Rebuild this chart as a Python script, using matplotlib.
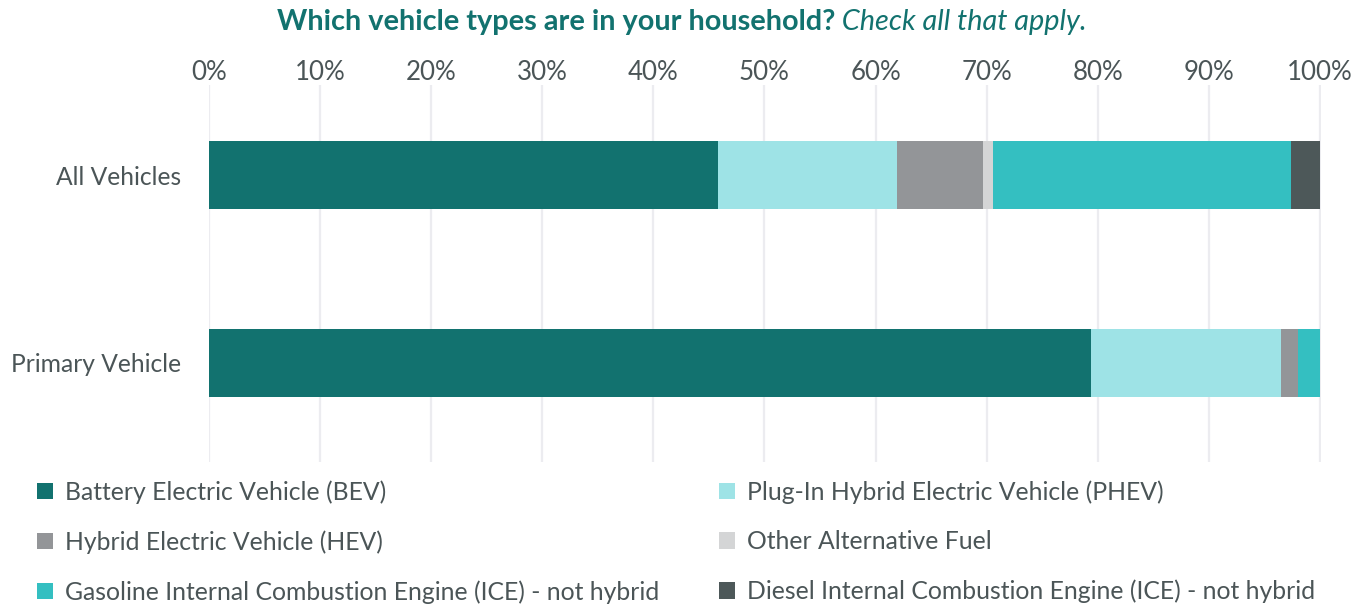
import matplotlib
matplotlib.use("Agg")
import matplotlib.pyplot as plt
import numpy as np

categories = ["All Vehicles", "Primary Vehicle"]
series_names = [
    "Battery Electric Vehicle (BEV)",
    "Plug-In Hybrid Electric Vehicle (PHEV)",
    "Hybrid Electric Vehicle (HEV)",
    "Other Alternative Fuel",
    "Gasoline Internal Combustion Engine (ICE) - not hybrid",
    "Diesel Internal Combustion Engine (ICE) - not hybrid",
]
bev = [45.8, 79.4]
phev = [16.1, 17.1]
hev = [7.8, 1.5]
other = [0.9, 0.0]
gas = [26.8, 2.0]
diesel = [2.6, 0.0]
series_values = [bev, phev, hev, other, gas, diesel]
colors = ["#12726f", "#9ee3e6", "#939598", "#d4d5d6", "#34bfc1", "#4d5859"]
tick_values = [0, 10, 20, 30, 40, 50, 60, 70, 80, 90, 100]
tick_labels = [f"{v}%" for v in tick_values]

plt.rcParams['font.family'] = ['Lato', 'DejaVu Sans']
text_color = "#4b5557"
title_color = "#12726f"

fig = plt.figure(figsize=(13.71, 6.06), dpi=100)
W, H = 1371, 606
ax_left, ax_right = 209 / W, 1321 / W
ax_top, ax_bottom = 1 - 85 / H, 1 - 462 / H
ax = fig.add_axes([ax_left, ax_bottom, ax_right - ax_left, ax_top - ax_bottom])

y = np.arange(len(categories))
left = np.zeros(len(categories))
handles = []
for name, vals, c in zip(series_names, series_values, colors):
    vals = np.array(vals)
    h = ax.barh(y, vals, left=left, height=0.362, color=c, label=name, zorder=3)
    handles.append(h)
    left = left + vals

ax.set_xlim(0, 100.1)
ax.set_ylim(1.527, -0.479)
ax.set_xticks(tick_values)
ax.set_xticklabels(tick_labels)
ax.xaxis.tick_top()
ax.tick_params(axis='x', length=0, pad=0, labelsize=18.6, labelcolor=text_color)
ax.set_yticks(y)
ax.set_yticklabels(categories)
ax.tick_params(axis='y', length=0, pad=20, labelsize=17.7, labelcolor=text_color)
ax.grid(axis='x', color="#ececf0", linewidth=1.6, zorder=0)
for s in ax.spines.values():
    s.set_visible(False)

# Title
t1 = fig.text(0, 0, "Which vehicle types are in your household?", fontsize=20.8,
              fontweight='bold', color=title_color)
t2 = fig.text(0, 0, " Check all that apply.", fontsize=20.8, fontstyle='italic',
              color=title_color)
fig.canvas.draw()
r = fig.canvas.get_renderer()
w1 = t1.get_window_extent(r).width
w2 = t2.get_window_extent(r).width
cx = 682
start = cx - (w1 + w2) / 2
ty = 1 - 30 / H
t1.set_position((start / W, ty))
t2.set_position(((start + w1) / W, ty))

# Legend (column-wise order)
order = [0, 2, 4, 1, 3, 5]
leg = fig.legend([handles[i] for i in order], [series_names[i] for i in order],
                 ncol=2, loc='upper left', bbox_to_anchor=(37 / W, 1 - 480 / H),
                 frameon=False, fontsize=17.8, handlelength=0.65, handleheight=0.65,
                 handletextpad=0.5, columnspacing=2.4, labelspacing=1.07,
                 borderaxespad=0, borderpad=0)
for txt in leg.get_texts():
    txt.set_color(text_color)

fig.savefig("out.png", dpi=100)
